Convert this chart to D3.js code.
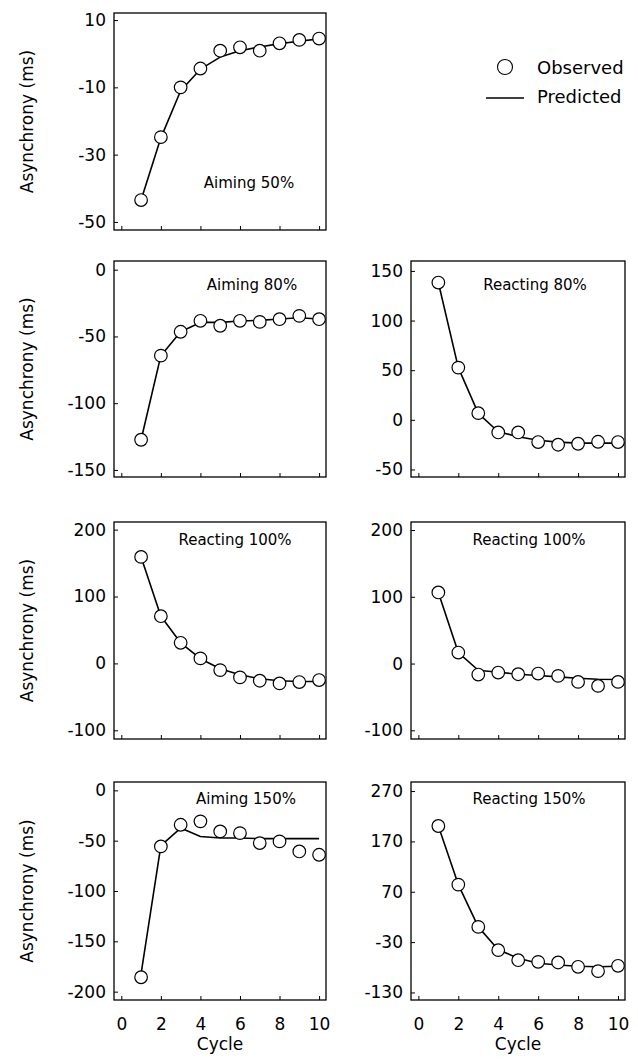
<!DOCTYPE html>
<html>
<head>
<meta charset="utf-8">
<script src="https://cdnjs.cloudflare.com/ajax/libs/d3/7.8.5/d3.min.js"></script>
<style>
  body { margin: 0; background: #fff; }
  svg text { font-family: "DejaVu Sans", sans-serif; fill: #000; }
</style>
</head>
<body>
<div id="chart"></div>
<script>
// cycle numbers
var cycles = [1, 2, 3, 4, 5, 6, 7, 8, 9, 10];
var xTicks = [0, 2, 4, 6, 8, 10];

// observed / predicted asynchronies (ms)
var aiming50Obs = [-43.5, -24.8, -10.0, -4.4, 0.9, 1.9, 0.9, 3.1, 4.1, 4.5];
var aiming50Pred = [-43.5, -25.0, -11.0, -4.6, -1.0, 0.9, 2.0, 3.0, 3.7, 4.4];
var aiming80Obs = [-127.4, -64.4, -46.5, -38.3, -42.0, -38.3, -39.1, -37.1, -34.6, -37.1];
var aiming80Pred = [-127.4, -64.4, -46.5, -39.5, -39.5, -38.5, -38.0, -37.0, -36.0, -37.0];
var reacting80Obs = [138.3, 52.6, 6.7, -12.7, -12.7, -22.4, -25.1, -24.1, -22.1, -22.4];
var reacting80Pred = [138.3, 52.6, 6.5, -12.0, -17.0, -20.5, -22.5, -23.5, -23.5, -23.5];
var reacting100aObs = [159.2, 70.6, 30.8, 7.5, -10.0, -20.9, -25.9, -29.9, -27.9, -24.9];
var reacting100aPred = [159.2, 70.6, 30.8, 7.0, -8.0, -17.0, -23.0, -26.0, -27.0, -27.0];
var reacting100bObs = [106.5, 16.5, -16.5, -13.5, -16.0, -15.0, -18.5, -27.5, -33.5, -27.5];
var reacting100bPred = [106.5, 16.5, -10.0, -13.0, -16.0, -18.0, -20.0, -22.0, -23.5, -24.0];
var aiming150Obs = [-185.7, -55.7, -34.2, -30.8, -40.8, -42.5, -52.4, -50.7, -60.7, -64.0];
var aiming150Pred = [-182.0, -55.0, -37.5, -45.8, -47.4, -47.4, -48.0, -48.0, -48.0, -48.0];
var reacting150Obs = [200.6, 84.2, 0.2, -46.0, -65.9, -69.2, -70.5, -79.1, -87.7, -77.1];
var reacting150Pred = [200.6, 84.2, 0.2, -45.0, -62.0, -72.0, -75.5, -78.0, -79.0, -78.0];

// y tick labels of each panel
var aiming50Ticks = [10, -10, -30, -50];
var aiming80Ticks = [0, -50, -100, -150];
var reacting80Ticks = [150, 100, 50, 0, -50];
var reacting100Ticks = [200, 100, 0, -100];
var aiming150Ticks = [0, -50, -100, -150, -200];
var reacting150Ticks = [270, 170, 70, -30, -130];

var panelTitles = ["Aiming 50%", "Aiming 80%", "Reacting 80%", "Reacting 100%", "Reacting 100%", "Aiming 150%", "Reacting 150%"];

var W = 638, H = 1063;
var cols = [{x0: 114, x1: 326}, {x0: 411, x1: 625}];
var rows = [{y0: 13, y1: 230}, {y0: 261, y1: 477}, {y0: 522, y1: 739}, {y0: 782, y1: 1000}];

var panels = [
  {col: 0, row: 0, obs: aiming50Obs, pred: aiming50Pred, ticks: aiming50Ticks, dom: [-52.4, 12.1], title: panelTitles[0], tx: 249, ty: 175},
  {col: 0, row: 1, obs: aiming80Obs, pred: aiming80Pred, ticks: aiming80Ticks, dom: [-155.3, 6.5], title: panelTitles[1], tx: 252, ty: 29},
  {col: 1, row: 1, obs: reacting80Obs, pred: reacting80Pred, ticks: reacting80Ticks, dom: [-57.6, 160], title: panelTitles[2], tx: 535, ty: 29},
  {col: 0, row: 2, obs: reacting100aObs, pred: reacting100aPred, ticks: reacting100Ticks, dom: [-113, 211.4], title: panelTitles[3], tx: 235, ty: 23},
  {col: 1, row: 2, obs: reacting100bObs, pred: reacting100bPred, ticks: reacting100Ticks, dom: [-113, 212], title: panelTitles[4], tx: 529, ty: 23},
  {col: 0, row: 3, obs: aiming150Obs, pred: aiming150Pred, ticks: aiming150Ticks, dom: [-208.3, 8.3], title: panelTitles[5], tx: 246, ty: 22},
  {col: 1, row: 3, obs: reacting150Obs, pred: reacting150Pred, ticks: reacting150Ticks, dom: [-145, 288], title: panelTitles[6], tx: 529, ty: 22}
];

var svg = d3.select("#chart").append("svg")
  .attr("width", W)
  .attr("height", H);

// plain hyphen for negatives, as in the figure
var fmt = function(d) { return String(d); };

panels.forEach(function(p) {
  var c = cols[p.col], r = rows[p.row];
  var x = d3.scaleLinear().domain([-0.37, 10.35]).range([c.x0, c.x1]);
  var y = d3.scaleLinear().domain(p.dom).range([r.y1, r.y0]);
  var g = svg.append("g");

  // y axis, inward ticks
  var ya = g.append("g")
    .attr("transform", "translate(" + c.x0 + ",0)")
    .call(d3.axisLeft(y).tickValues(p.ticks).tickSizeInner(-4).tickSizeOuter(0).tickPadding(8).tickFormat(fmt));
  ya.select(".domain").remove();
  ya.selectAll("line").attr("stroke", "#000").attr("stroke-width", 1);
  ya.selectAll("text").style("font-size", "17px").attr("fill", "#000");

  // x axis ticks
  var xa = g.append("g")
    .attr("transform", "translate(0," + r.y1 + ")")
    .call(d3.axisBottom(x).tickValues(xTicks).tickSizeInner(-4).tickSizeOuter(0).tickPadding(18).tickFormat(fmt));
  xa.select(".domain").remove();
  xa.selectAll("line").attr("stroke", "#000").attr("stroke-width", 1);
  if (p.row === 3) {
    xa.selectAll("text").style("font-size", "17px").attr("fill", "#000");
    svg.append("text")
      .attr("x", (c.x0 + c.x1) / 2)
      .attr("y", 1050)
      .attr("text-anchor", "middle")
      .style("font-size", "17px")
      .text("Cycle");
  } else {
    xa.selectAll("text").remove();
  }

  // frame
  g.append("rect")
    .attr("x", c.x0).attr("y", r.y0)
    .attr("width", c.x1 - c.x0).attr("height", r.y1 - r.y0)
    .attr("fill", "none")
    .attr("stroke", "#000")
    .attr("stroke-width", 1.3);

  if (p.col === 0) {
    svg.append("text")
      .attr("transform", "translate(33," + ((r.y0 + r.y1) / 2) + ") rotate(-90)")
      .attr("text-anchor", "middle")
      .style("font-size", "17px")
      .text("Asynchrony (ms)");
  }

  // predicted line
  var line = d3.line()
    .x(function(d, i) { return x(cycles[i]); })
    .y(function(d) { return y(d); });
  g.append("path")
    .datum(p.pred)
    .attr("d", line)
    .attr("fill", "none")
    .attr("stroke", "#000")
    .attr("stroke-width", 1.6)
    .attr("stroke-linejoin", "round");

  // observed points
  g.selectAll(".obs")
    .data(p.obs)
    .enter()
    .append("circle")
    .attr("class", "obs")
    .attr("cx", function(d, i) { return x(cycles[i]); })
    .attr("cy", function(d) { return y(d); })
    .attr("r", 6.3)
    .attr("fill", "#fff")
    .attr("stroke", "#000")
    .attr("stroke-width", 1.2);

  g.append("text")
    .attr("x", p.tx)
    .attr("y", r.y0 + p.ty)
    .attr("text-anchor", "middle")
    .style("font-size", "15px")
    .text(p.title);
});

// legend
var legend = svg.append("g");
legend.append("circle")
  .attr("cx", 505).attr("cy", 67).attr("r", 7.5)
  .attr("fill", "#fff").attr("stroke", "#000").attr("stroke-width", 1.1);
legend.append("text")
  .attr("x", 537).attr("y", 74)
  .style("font-size", "18px")
  .text("Observed");
legend.append("line")
  .attr("x1", 486).attr("x2", 524).attr("y1", 98).attr("y2", 98)
  .attr("stroke", "#000").attr("stroke-width", 1.3);
legend.append("text")
  .attr("x", 537).attr("y", 103)
  .style("font-size", "18px")
  .text("Predicted");
</script>
</body>
</html>
